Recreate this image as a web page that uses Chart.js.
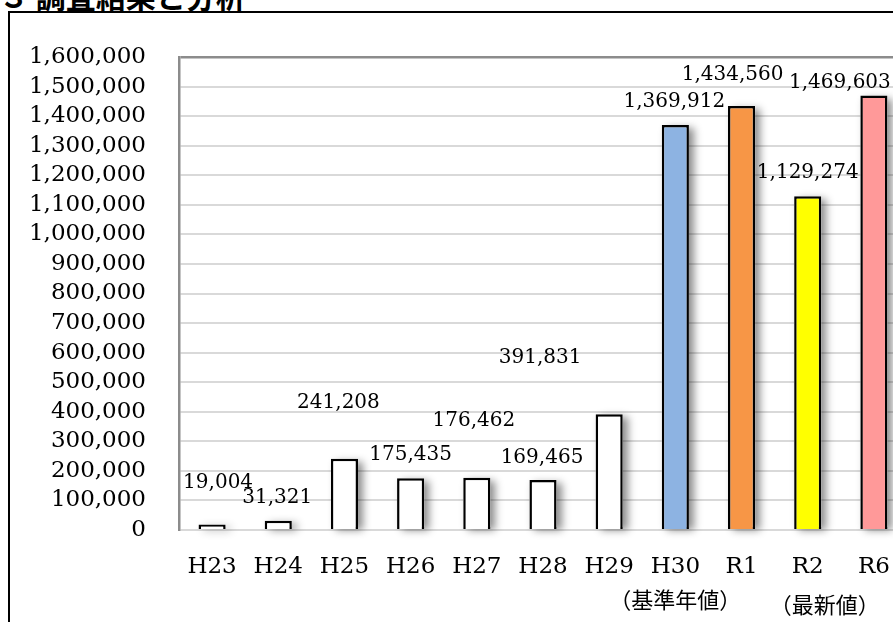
<!DOCTYPE html>
<html>
<head>
<meta charset="utf-8">
<script src="https://cdn.jsdelivr.net/npm/chart.js@4.4.0/dist/chart.umd.min.js"></script>
<style>
  html, body { margin: 0; padding: 0; width: 893px; height: 622px; overflow: hidden; background: #fff; }
  #title { position: absolute; left: -1px; top: -27px; font: bold 30px "Noto Sans CJK JP", sans-serif; white-space: nowrap; }
  #frame { position: absolute; left: 8px; top: 11px; width: 1000px; height: 700px; border: 2px solid #000; }
  #wrap { position: absolute; left: 0; top: 0; width: 940px; height: 660px; }
</style>
</head>
<body>
<div id="title">３ 調査結果と分析</div>
<div id="frame"></div>
<div id="wrap"><canvas id="myChart" width="940" height="660"></canvas></div>
<script>
var years = ['H23', 'H24', 'H25', 'H26', 'H27', 'H28', 'H29', 'H30', 'R1', 'R2', 'R6'];
var counts = [19004, 31321, 241208, 175435, 176462, 169465, 391831, 1369912, 1434560, 1129274, 1469603];
var barColors = ['#ffffff', '#ffffff', '#ffffff', '#ffffff', '#ffffff', '#ffffff', '#ffffff', '#8db3e2', '#f79646', '#ffff00', '#ff9999'];
var notes = [{ index: 7, text: '（基準年値）' }, { index: 9, text: '（最新値）' }];

// where each value label sits, relative to the top of its bar (px)
var labelShift = [[6, -42], [-1, -23], [-6, -56], [0, -23], [-3, -57], [-1, -22], [-69, -56], [-1, -23], [-9, -31], [0, -23], [-34, -13]];
var noteShift = { 7: [0, 70], 9: [17, 75] };

var shadowPlugin = {
  id: 'shadow',
  beforeDatasetsDraw: function(chart) {
    var ctx = chart.ctx;
    ctx.save();
    ctx.fillStyle = '#fff';
    ctx.shadowColor = 'rgba(0,0,0,0.45)';
    ctx.shadowBlur = 8;
    ctx.shadowOffsetX = 5;
    ctx.shadowOffsetY = 3;
    chart.getDatasetMeta(0).data.forEach(function(bar) {
      ctx.fillRect(bar.x - bar.width / 2, bar.y, bar.width, bar.base - bar.y - 2);
    });
    ctx.restore();
  }
};

var labelPlugin = {
  id: 'labels',
  afterDatasetsDraw: function(chart) {
    var ctx = chart.ctx;
    ctx.save();
    ctx.fillStyle = '#000';
    ctx.textAlign = 'center';
    ctx.textBaseline = 'middle';
    ctx.font = '20px "DejaVu Serif"';
    chart.getDatasetMeta(0).data.forEach(function(bar, i) {
      ctx.fillText(counts[i].toLocaleString('en-US'), bar.x + labelShift[i][0], bar.y + labelShift[i][1]);
    });
    ctx.font = '22px "Noto Sans CJK JP"';
    var xs = chart.scales.x;
    notes.forEach(function(n) {
      var s = noteShift[n.index];
      ctx.fillText(n.text, xs.getPixelForValue(n.index) + s[0], chart.chartArea.bottom + s[1]);
    });
    ctx.restore();
  }
};

var ctx = document.getElementById('myChart');
var myChart = new Chart(ctx, {
  type: 'bar',
  data: {
    labels: years,
    datasets: [{
      data: counts,
      backgroundColor: barColors,
      borderColor: '#000',
      borderWidth: 2.5,
      borderSkipped: 'bottom',
      categoryPercentage: 1,
      barPercentage: 0.41
    }]
  },
  options: {
    responsive: false,
    animation: false,
    devicePixelRatio: 1,
    layout: { padding: { top: 57, right: 33, bottom: 70, left: 0 } },
    plugins: { legend: { display: false }, tooltip: { enabled: false } },
    scales: {
      x: {
        grid: { display: false, drawTicks: false },
        border: { display: false },
        ticks: { color: '#000', font: { family: 'DejaVu Serif', size: 23 }, padding: 23, maxRotation: 0, autoSkip: false },
        afterFit: function(scale) { scale.height = 60; }
      },
      y: {
        min: 0,
        max: 1600000,
        ticks: {
          stepSize: 100000,
          autoSkip: false,
          color: '#000',
          padding: 33,
          font: { family: 'DejaVu Serif', size: 23 },
          callback: function(value) { return value.toLocaleString('en-US'); }
        },
        grid: {
          drawTicks: false,
          lineWidth: function(c) { return c.tick && c.tick.value === 1600000 ? 2.5 : 2; },
          color: function(c) { return c.tick && c.tick.value === 1600000 ? '#8c8c8c' : '#d9d9d9'; }
        },
        border: { display: true, color: '#8c8c8c', width: 2.5 },
        afterFit: function(scale) { scale.width = 179; }
      }
    }
  },
  plugins: [shadowPlugin, labelPlugin]
});
</script>
</body>
</html>
